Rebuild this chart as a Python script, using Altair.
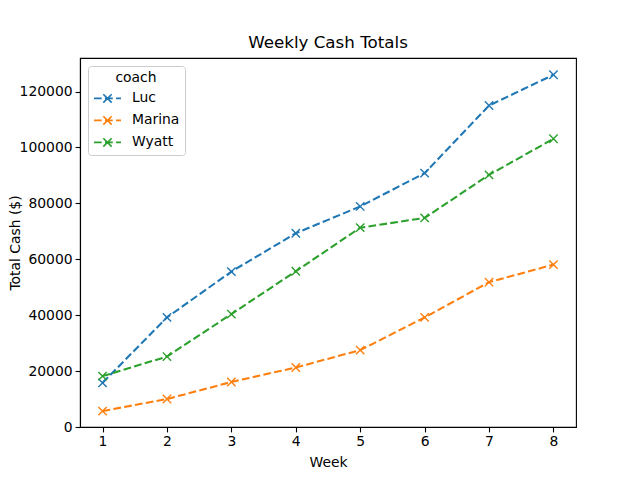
import altair as alt
import pandas as pd

weeks = [1, 2, 3, 4, 5, 6, 7, 8]
coaches = ["Luc", "Marina", "Wyatt"]
luc = [15800, 39200, 55600, 69300, 78900, 90800, 115000, 126000]
marina = [5700, 10000, 16100, 21300, 27500, 39200, 51800, 58100]
wyatt = [18200, 25200, 40400, 55700, 71300, 74800, 90200, 103100]
colors = ["#1f77b4", "#ff7f0e", "#2ca02c"]
y_ticks = [0, 20000, 40000, 60000, 80000, 100000, 120000]

rows = []
for name, vals in zip(coaches, [luc, marina, wyatt]):
    for w, v in zip(weeks, vals):
        rows.append({"week": w, "cash": v, "coach": name})
df = pd.DataFrame(rows)

FONT = "DejaVu Sans"
X_PATH = "M-1,-1L1,1M-1,1L1,-1"
LEG_PATH = ("M-1,0L-0.43,0M-0.19,0L0.39,0M0.63,0L1,0"
            "M-0.31,-0.31L0.31,0.31M-0.31,0.31L0.31,-0.31")

x_enc = alt.X("week:Q",
              scale=alt.Scale(domain=[0.65, 8.35], nice=False, zero=False),
              axis=alt.Axis(values=weeks, format="d", title="Week",
                            titlePadding=7))
y_enc = alt.Y("cash:Q",
              scale=alt.Scale(domain=[0, 132000], nice=False),
              axis=alt.Axis(values=y_ticks, format="d", title="Total Cash ($)",
                            titleX=-65, titleBaseline="middle"))
legend = alt.Legend(
    orient="none", legendX=8, legendY=8, title="coach",
    titleFontSize=13.9, titleFontWeight="normal", titleFont=FONT,
    titleAnchor="middle", titleColor="black", titlePadding=-1,
    labelFontSize=13.9, labelFont=FONT, labelColor="black",
    symbolType=LEG_PATH, symbolSize=729, symbolStrokeWidth=1.6,
    symbolFillColor="transparent", padding=5, strokeColor="#cccccc",
    fillColor="white", cornerRadius=3, rowPadding=-2.5, labelOffset=10,
)
c_enc = alt.Color("coach:N", scale=alt.Scale(domain=coaches, range=colors),
                  legend=legend)

base = alt.Chart(df)
line = base.mark_line(strokeDash=[7.7, 3.3], strokeWidth=2.08).encode(
    x=x_enc, y=y_enc, color=c_enc)
points = base.mark_point(shape=X_PATH, filled=False, size=70,
                         strokeWidth=1.4, opacity=1).encode(
    x=x_enc, y=y_enc, color=c_enc)

chart = alt.layer(line, points).properties(
    width=496, height=369,
    title=alt.TitleParams("Weekly Cash Totals", fontSize=16.7,
                          fontWeight="normal", font=FONT, color="black",
                          offset=6),
    autosize=alt.AutoSizeParams(type="none"),
    padding={"left": 72, "top": 50, "right": 56, "bottom": 45},
).configure_view(stroke="black", strokeWidth=1.1).configure_axis(
    grid=False, domainColor="black", domainWidth=1.1, tickColor="black",
    tickWidth=1.1, tickSize=4.9, labelFont=FONT, labelFontSize=13.9,
    labelColor="black", labelPadding=3, titleFont=FONT, titleFontSize=13.9,
    titleFontWeight="normal", titleColor="black",
)

chart.save("out.html", embed_options={"renderer": "svg", "actions": False})
